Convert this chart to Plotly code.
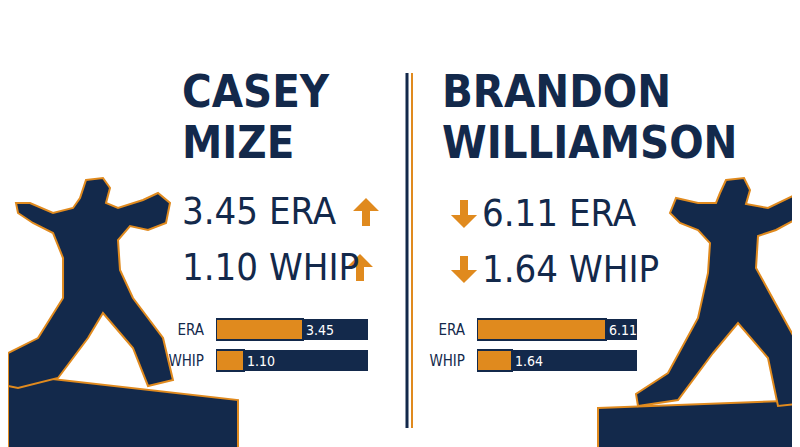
import plotly.graph_objects as go

W, H = 800, 447
NAVY = "#13294B"
ORANGE = "#E08A1E"
FONT = "DejaVu Sans Condensed, Liberation Sans Narrow, sans-serif"

names = [["CASEY", "MIZE"], ["BRANDON", "WILLIAMSON"]]
metrics = ["ERA", "WHIP"]
era = [3.45, 6.11]
whip = [1.10, 1.64]
scale_max = [6.0, 7.6]

def px(x, y):
    return x / W, 1 - y / H

def path(pts):
    s = ""
    for i, (x, y) in enumerate(pts):
        X, Y = px(x, y)
        s += ("M" if i == 0 else "L") + f"{X:.4f},{Y:.4f} "
    return s + "Z"

fig = go.Figure()
domains = [(208, 360), (469, 629)]
for i in range(2):
    xa = "x" if i == 0 else "x2"
    ya = "y" if i == 0 else "y2"
    vals = [era[i], whip[i]]
    fig.add_trace(go.Bar(y=metrics, x=[scale_max[i]] * 2, orientation="h", marker=dict(color=NAVY, line=dict(width=0)),
                         width=0.66, xaxis=xa, yaxis=ya, hoverinfo="skip", showlegend=False))
    fig.add_trace(go.Bar(y=metrics, x=vals, orientation="h", marker=dict(color=ORANGE, line=dict(color=NAVY, width=2)),
                         width=0.66, xaxis=xa, yaxis=ya, text=[f"{v:.2f}" for v in vals], textposition="outside",
                         textfont=dict(color="white", size=14, family=FONT), cliponaxis=False, showlegend=False))

def dom(a, b):
    return [a / W, b / W]
ydom = [1 - 368 / H, 1 - 306 / H]
fig.update_layout(
    width=W, height=H, margin=dict(l=0, r=0, t=0, b=0), paper_bgcolor="white", plot_bgcolor="rgba(0,0,0,0)",
    barmode="overlay", bargap=0,
    xaxis=dict(domain=dom(*domains[0]), range=[0, scale_max[0]], visible=False),
    yaxis=dict(domain=ydom, autorange="reversed", showgrid=False, zeroline=False, showline=False,
               tickfont=dict(size=15, color=NAVY, family=FONT), ticklen=8, ticks="outside", tickcolor="rgba(0,0,0,0)"),
    xaxis2=dict(domain=dom(*domains[1]), range=[0, scale_max[1]], visible=False),
    yaxis2=dict(domain=ydom, anchor="x2", autorange="reversed", showgrid=False, zeroline=False, showline=False,
                tickfont=dict(size=15, color=NAVY, family=FONT), ticklen=8, ticks="outside", tickcolor="rgba(0,0,0,0)"),
)

shapes = []
shapes.append(dict(type="line", xref="paper", yref="paper", x0=399/W, x1=399/W, y0=1-65/H, y1=1-420/H, line=dict(color=NAVY, width=3)))
shapes.append(dict(type="line", xref="paper", yref="paper", x0=404/W, x1=404/W, y0=1-65/H, y1=1-420/H, line=dict(color=ORANGE, width=2)))
shapes.append(dict(type="path", xref="paper", yref="paper", path=path([(0,366),(230,392),(230,447),(0,447)]), fillcolor=NAVY, line=dict(color=ORANGE, width=2)))
shapes.append(dict(type="path", xref="paper", yref="paper", path=path([(590,400),(800,392),(800,447),(590,447)]), fillcolor=NAVY, line=dict(color=ORANGE, width=2)))
lp = [(78,172),(95,170),(102,180),(98,195),(110,200),(135,192),(150,185),(162,195),(158,215),(140,222),(122,218),(110,232),
      (112,262),(125,290),(155,330),(165,372),(140,378),(125,340),(95,305),(80,330),(50,370),(10,380),(0,378),(0,345),
      (30,330),(55,290),(55,250),(45,225),(25,215),(10,205),(8,195),(22,195),(45,205),(65,200),(72,190)]
shapes.append(dict(type="path", xref="paper", yref="paper", path=path(lp), fillcolor=NAVY, line=dict(color=ORANGE, width=2)))
rp = [(718,172),(736,170),(742,182),(738,196),(760,200),(785,188),(795,195),(790,210),(768,222),(750,228),(748,260),
      (770,300),(792,340),(800,360),(800,395),(770,398),(760,350),(730,315),(705,345),(670,392),(630,398),(628,386),
      (660,365),(690,310),(700,265),(702,235),(690,222),(672,215),(662,205),(668,190),(690,195),(708,195),(712,185)]
shapes.append(dict(type="path", xref="paper", yref="paper", path=path(rp), fillcolor=NAVY, line=dict(color=ORANGE, width=2)))

def arrow(cx, top, bot, up=True):
    hw, sw, head = 13, 4, 13
    if up:
        pts = [(cx, top), (cx+hw, top+head), (cx+sw, top+head), (cx+sw, bot), (cx-sw, bot), (cx-sw, top+head), (cx-hw, top+head)]
    else:
        pts = [(cx, bot), (cx+hw, bot-head), (cx+sw, bot-head), (cx+sw, top), (cx-sw, top), (cx-sw, bot-head), (cx-hw, bot-head)]
    shapes.append(dict(type="path", xref="paper", yref="paper", path=path(pts), fillcolor=ORANGE, line=dict(width=0)))
arrow(358, 190, 218, True)
arrow(352, 246, 273, True)
arrow(456, 192, 220, False)
arrow(456, 248, 275, False)
fig.update_layout(shapes=shapes)

ann = []
def text(x, y, t, size, color=NAVY):
    X, Y = px(x, y)
    ann.append(dict(xref="paper", yref="paper", x=X, y=Y, text=t, showarrow=False, xanchor="left", yanchor="middle",
                    align="left", font=dict(family=FONT, size=size, color=color)))
text(172, 84, f"<b>{names[0][0]}</b>", 45)
text(172, 134, f"<b>{names[0][1]}</b>", 45)
text(432, 84, f"<b>{names[1][0]}</b>", 45)
text(432, 134, f"<b>{names[1][1]}</b>", 45)
text(172, 203, f"{era[0]:.2f} ERA", 38)
text(172, 259, f"{whip[0]:.2f} WHIP", 38)
text(472, 205, f"{era[1]:.2f} ERA", 38)
text(472, 261, f"{whip[1]:.2f} WHIP", 38)
fig.update_layout(annotations=ann)

fig.write_html("out.html")
